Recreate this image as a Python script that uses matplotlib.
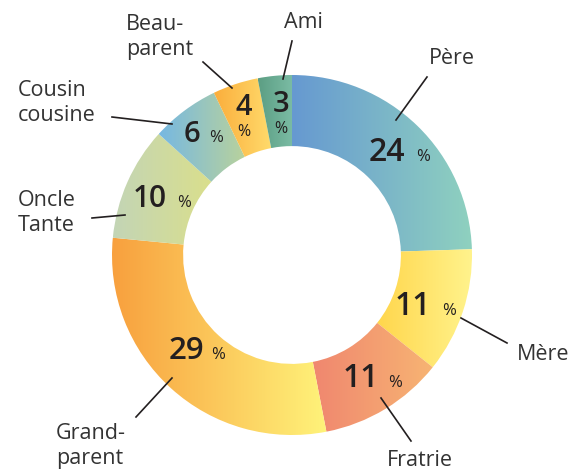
import numpy as np
import matplotlib.pyplot as plt
from matplotlib.colors import to_rgb

plt.rcParams['font.family'] = ['Open Sans', 'DejaVu Sans']

# Données
labels = ['Père', 'Mère', 'Fratrie', 'Grand-\nparent', 'Oncle\nTante',
          'Cousin\ncousine', 'Beau-\nparent', 'Ami']
values = [24, 11, 11, 29, 10, 6, 4, 3]

# dégradés gauche -> droite de chaque secteur
col_left = ['#6699d1', '#ffd64c', '#f0876f', '#f8a03e', '#c3d5b6',
            '#76b8e2', '#fbae3c', '#5c9e83']
col_right = ['#8fd1bf', '#fff38c', '#f7b473', '#fff37a', '#dadf8c',
             '#b9d29c', '#ffdb6c', '#7bbca5']

# mise en page (pixels de l'image d'origine)
CX, CY, R = 292, 255, 180
label_pos = [(452, 58, 'center'), (543, 355, 'center'), (420, 461, 'center'),
             (56, 446, 'left'), (18, 213, 'left'), (18, 103, 'left'),
             (126, 37, 'left'), (303, 22, 'center')]
lines = [((396, 120), (427, 77)), ((461, 318), (507, 343)),
         ((381, 398), (411, 441)), ((172, 378), (136, 417)),
         ((125, 215), (92, 218)), ((172, 124), (112, 117)),
         ((232, 88), (203, 62)), ((283, 79), (292, 41))]
# (x du chiffre, ligne de base, x du %) ; empilé pour les petits secteurs
num_pos = [(405, 161, 416), (431, 315, 442), (379, 387, 388), (204, 359, 211),
           (167, 207, 177), (200, 142, 209), (244, 115, 136), (281, 112, 133)]
num_size = [23, 23, 23, 22.5, 21.5, 21, 21, 21]
stacked = [False, False, False, False, False, False, True, True]


def px(x, y):
    return (x - CX) / R, (CY - y) / R


fig = plt.figure(figsize=(5.73, 4.71), dpi=100)
ax = fig.add_axes([0, 0, 1, 1])
x0, y1 = px(0, 0)
x1, y0 = px(573, 471)

wedges, _ = ax.pie(values, startangle=90, counterclock=False, radius=1,
                   wedgeprops=dict(width=0.395, linewidth=0))

for i, w in enumerate(wedges):
    w.set_facecolor('none')
    bb = w.get_path().get_extents(w.get_patch_transform())
    c0, c1 = np.array(to_rgb(col_left[i])), np.array(to_rgb(col_right[i]))
    t = np.linspace(0, 1, 256)[None, :, None]
    img = c0 + (c1 - c0) * t
    im = ax.imshow(img, extent=[bb.x0, bb.x1, bb.y0, bb.y1], origin='lower',
                   aspect='auto', interpolation='bilinear', zorder=1)
    im.set_clip_path(w)

    # valeur dans l'anneau
    nx, nb, p = num_pos[i]
    if stacked[i]:
        ax.text(*px(nx, nb), str(values[i]), ha='center', va='baseline',
                fontsize=num_size[i], fontweight='semibold', color='#231f20', zorder=3)
        ax.text(*px(nx, p), '%', ha='center', va='baseline',
                fontsize=11.5, color='#231f20', zorder=3)
    else:
        ax.text(*px(nx, nb), str(values[i]), ha='right', va='baseline',
                fontsize=num_size[i], fontweight='semibold', color='#231f20', zorder=3)
        ax.text(*px(p, nb), '%', ha='left', va='baseline',
                fontsize=12, color='#231f20', zorder=3)

    (a, b), (c, d) = lines[i]
    pa, pb = px(a, b), px(c, d)
    ax.plot([pa[0], pb[0]], [pa[1], pb[1]], color='#231f20', lw=1.2, zorder=4)
    lx, ly, ha = label_pos[i]
    ax.text(*px(lx, ly), labels[i], ha=ha, va='center', fontsize=15.5,
            color='#333333', linespacing=1.3, zorder=3)

ax.set_xlim(x0, x1)
ax.set_ylim(y0, y1)
ax.set_aspect('equal')
ax.axis('off')

fig.savefig('out.png', dpi=100)
